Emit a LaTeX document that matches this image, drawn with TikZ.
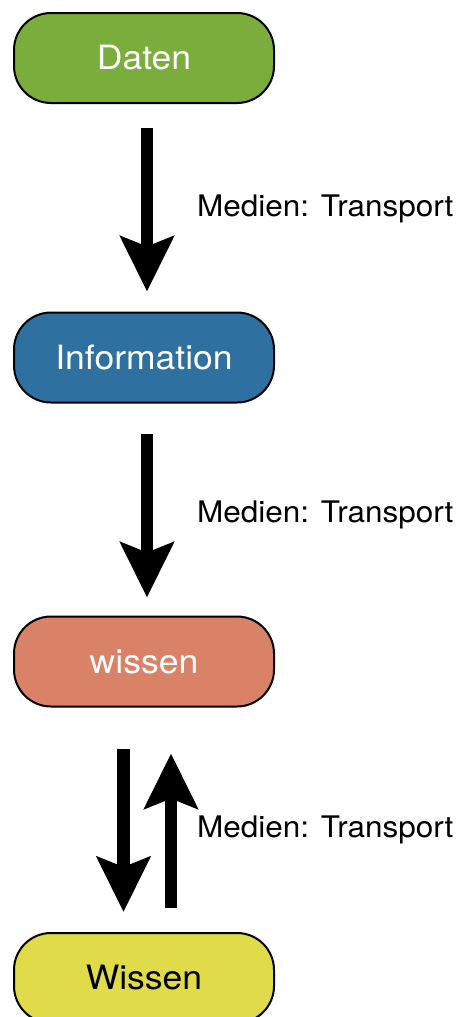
\documentclass[tikz,border=0pt]{standalone}
\usepackage{fontspec}
\setmainfont[FakeStretch=1.06]{TeX Gyre Heros}
\usetikzlibrary{arrows.meta}
\definecolor{cgreen}{RGB}{122,173,60}
\definecolor{cblue}{RGB}{46,112,160}
\definecolor{csalmon}{RGB}{217,130,104}
\definecolor{cyellow}{RGB}{224,219,72}
\tikzset{
  stage/.style={draw=black, line width=2pt, rounded corners=37pt,
    minimum width=260pt, minimum height=90pt, inner sep=0pt,
    font=\fontsize{33.5}{38}\selectfont},
  bigarrow/.style={line width=12.5pt,
    -{Stealth[length=55pt, width=53pt, inset=10pt]}},
  lbl/.style={anchor=base west, inner sep=0pt, font=\fontsize{29.7}{34}\selectfont}
}
\begin{document}
\begin{tikzpicture}[x=1pt,y=1pt]
\useasboundingbox (0,0) rectangle (457,-1017);
\node[stage, fill=cgreen, text=white] (daten) at (144,-58) {Daten};
\node[stage, fill=cblue, text=white] (info) at (144,-357.5) {Information};
\node[stage, fill=csalmon, text=white] (wis1) at (144,-661.5) {wissen};
\node[stage, fill=cyellow, text=black] (wis2) at (144,-978) {Wissen};

\draw[bigarrow, shorten <=24pt, shorten >=20pt] ([xshift=3pt]daten.south) -- ([xshift=3pt]info.north);
\draw[bigarrow, shorten <=30pt, shorten >=18pt] ([xshift=3pt]info.south) -- ([xshift=3pt]wis1.north);
\draw[bigarrow, shorten <=41pt, shorten >=20pt] ([xshift=-20.5pt]wis1.south) -- ([xshift=-20.5pt]wis2.north);
\draw[bigarrow, shorten <=24pt, shorten >=46pt] ([xshift=27pt]wis2.north) -- ([xshift=27pt]wis1.south);

\node[lbl] (l1) at (197,-216) {Medien: Transport};
\node[lbl] (l2) at (197,-522) {Medien: Transport};
\node[lbl] (l3) at (197,-837) {Medien: Transport};
\end{tikzpicture}
\end{document}
